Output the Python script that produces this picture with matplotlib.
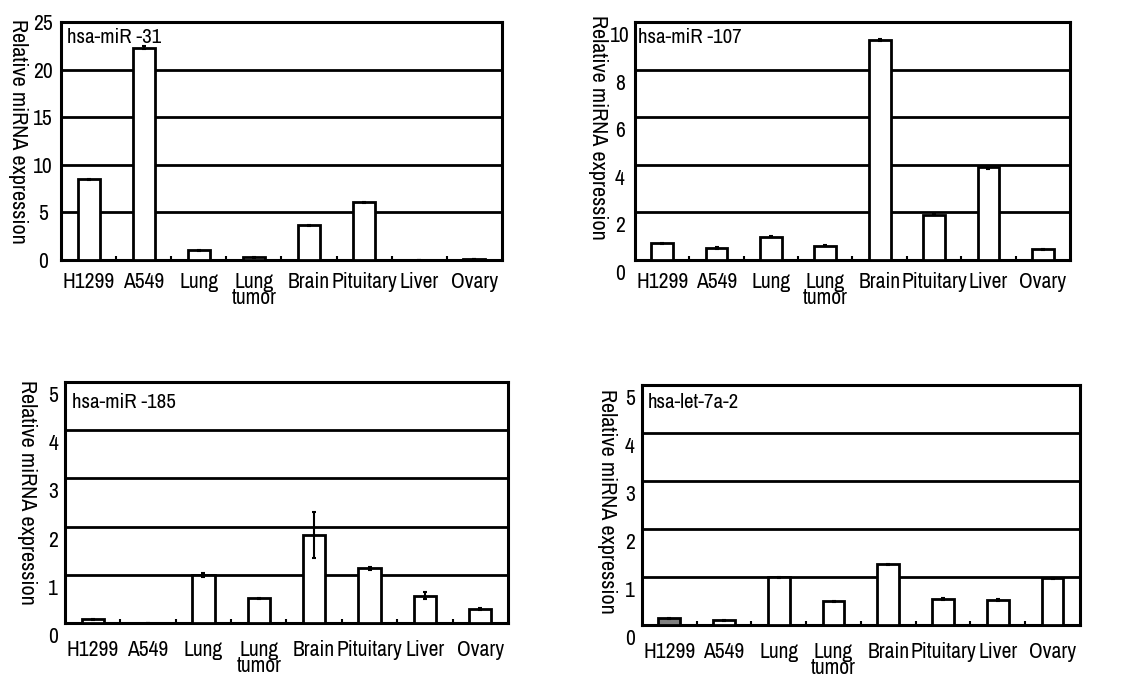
import matplotlib
matplotlib.use("Agg")
import matplotlib.pyplot as plt
import matplotlib.transforms as mtransforms
from matplotlib import font_manager
import numpy as np

# pick a narrow sans face if one is installed, else plain Liberation Sans a bit smaller
narrow = None
stretch = "normal"
for f in font_manager.fontManager.ttflist:
    if "Narrow" in f.name or "Condensed" in f.name:
        narrow = f.name
        break
if narrow is None:
    for f in font_manager.fontManager.ttflist:
        if f.stretch in ("condensed", "semi-condensed", 500, 400, 300) and "Sans" in f.name:
            narrow = f.name
            stretch = f.stretch
            break
if narrow:
    plt.rcParams['font.family'] = [narrow, 'Liberation Sans', 'DejaVu Sans']
    plt.rcParams['font.stretch'] = stretch
    fs, fs_lab = 15.5, 16
else:
    plt.rcParams['font.family'] = ['Liberation Sans', 'DejaVu Sans']
    fs, fs_lab = 13, 13.5

tissues = ["H1299", "A549", "Lung", "Lung\ntumor", "Brain", "Pituitary", "Liver", "Ovary"]

mir31 = [8.5, 22.3, 1.0, 0.3, 3.65, 6.05, 0.05, 0.15]
mir31_err = [0.05, 0.15, 0.05, 0.05, 0.05, 0.08, 0.0, 0.0]

mir107 = [0.7, 0.5, 0.98, 0.6, 9.25, 1.9, 3.9, 0.45]
mir107_err = [0.03, 0.04, 0.02, 0.02, 0.05, 0.03, 0.06, 0.03]

mir185 = [0.08, 0.0, 1.0, 0.51, 1.83, 1.14, 0.57, 0.29]
mir185_err = [0.01, 0.0, 0.04, 0.01, 0.48, 0.03, 0.08, 0.03]

let7a2 = [0.14, 0.1, 1.0, 0.5, 1.27, 0.54, 0.52, 0.97]
let7a2_err = [0.01, 0.01, 0.01, 0.01, 0.01, 0.02, 0.02, 0.01]

fig = plt.figure(figsize=(11.27, 6.76), dpi=100)

panels = [
    # rect, name, values, errors, ymax, grid step, ytick pad, label shift px, ylabel x, ylabel y, name xy, xtick pad
    ([0.0541, 0.6154, 0.3913, 0.352], "hsa-miR -31", mir31, mir31_err, 25, 5, 13, 0, -0.0975, 0.54, (0.014, 0.933), 9),
    ([0.5634, 0.6154, 0.386, 0.352], "hsa-miR -107", mir107, mir107_err, 10, 2, 10.8, 12, -0.085, 0.557, (0.007, 0.937), 9),
    ([0.0577, 0.0784, 0.393, 0.3565], "hsa-miR -185", mir185, mir185_err, 5, 1, 8.6, 12, -0.0858, 0.54, (0.016, 0.917), 12),
    ([0.5696, 0.0754, 0.3886, 0.355], "hsa-let-7a-2", let7a2, let7a2_err, 5, 1, 8.6, 12, -0.08, 0.517, (0.014, 0.929), 12),
]

x = np.arange(len(tissues))
for rect, name, vals, errs, ymax, step, ypad, shift, lx, ly, nxy, xpad in panels:
    ax = fig.add_axes(rect)
    colors = ["white"] * len(vals)
    if name == "hsa-let-7a-2":
        colors[0] = "#7f7f7f"
    ax.bar(x, vals, width=0.4, color=colors, edgecolor="black", linewidth=2, zorder=3)
    ax.errorbar(x, vals, yerr=errs, fmt="none", ecolor="black", elinewidth=1.5,
                capsize=1.5, capthick=1.5, zorder=4)
    ax.set_xlim(-0.5, len(tissues) - 0.5)
    ax.set_ylim(0, ymax)
    yt = np.arange(0, ymax + 0.01, step)
    ax.set_yticks(yt)
    ax.set_yticklabels([str(int(v)) for v in yt])
    for g in yt[1:-1]:
        ax.axhline(g, color="black", linewidth=2, zorder=1)
    ax.set_xticks(x)
    ax.set_xticklabels(tissues, fontsize=fs, linespacing=0.75, va="top")
    ax.set_xticks(np.arange(0.5, len(tissues) - 1, 1), minor=True)
    ax.tick_params(axis="x", which="major", length=0, pad=xpad)
    ax.tick_params(axis="x", which="minor", length=3, width=1.5, direction="in")
    ax.tick_params(axis="y", length=0, pad=ypad, labelsize=fs)
    for lab in ax.get_yticklabels():
        lab.set_horizontalalignment("center")
        if shift:
            lab.set_transform(lab.get_transform() +
                              mtransforms.ScaledTranslation(0, -shift / 100, fig.dpi_scale_trans))
    for sp in ax.spines.values():
        sp.set_linewidth(2.2)
    ax.set_ylabel("Relative miRNA expression", fontsize=fs_lab, rotation=270, va="center")
    ax.yaxis.set_label_coords(lx, ly)
    ax.text(nxy[0], nxy[1], name, transform=ax.transAxes, fontsize=15, ha="left", va="center")

plt.savefig("out.png", dpi=100)
